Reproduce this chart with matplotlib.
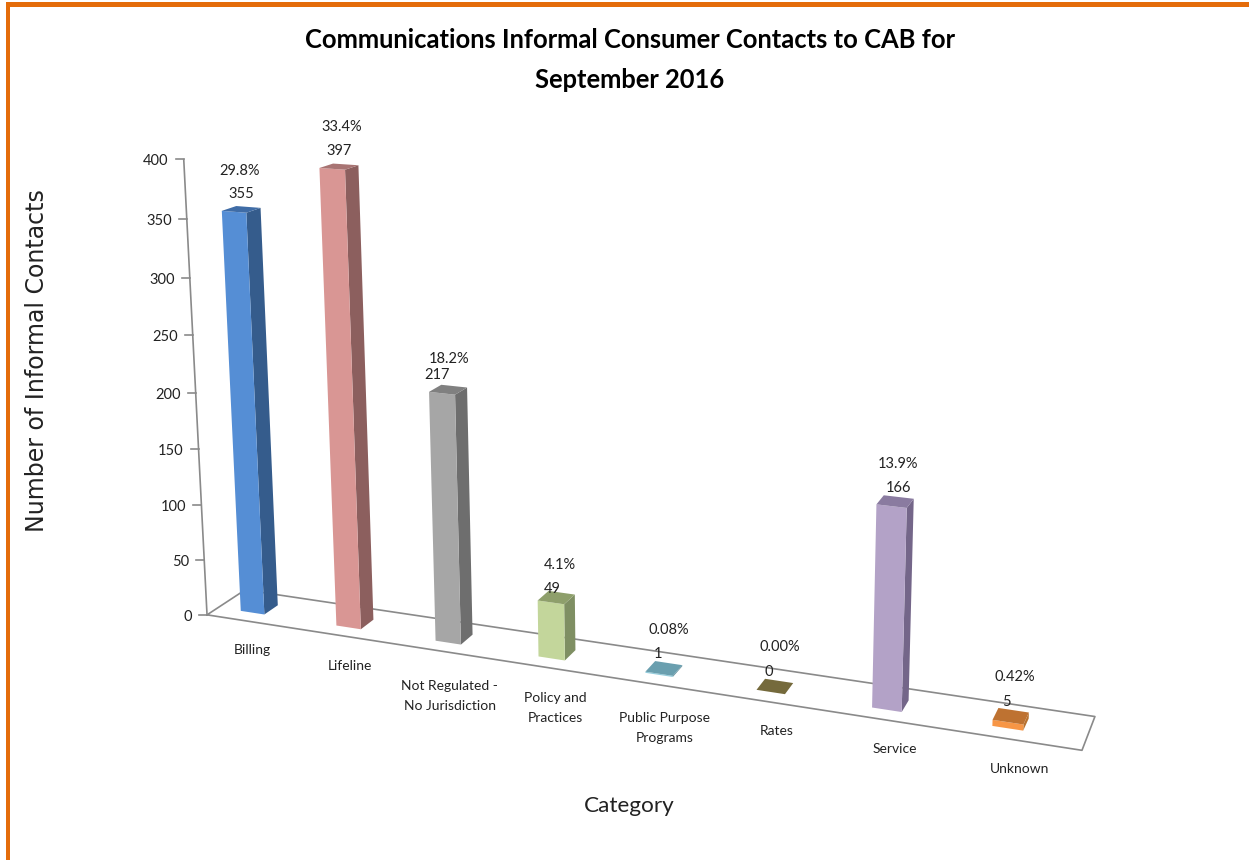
import numpy as np
import matplotlib
matplotlib.use("Agg")
import matplotlib.pyplot as plt
from matplotlib.font_manager import FontProperties

categories = ["Billing", "Lifeline", "Not Regulated -\nNo Jurisdiction", "Policy and\nPractices",
              "Public Purpose\nPrograms", "Rates", "Service", "Unknown"]
contacts = [355, 397, 217, 49, 1, 0, 166, 5]
percents = ["29.8%", "33.4%", "18.2%", "4.1%", "0.08%", "0.00%", "13.9%", "0.42%"]
yticks = [0, 50, 100, 150, 200, 250, 300, 350, 400]

front_colors = ["#558ED5", "#D99694", "#A6A6A6", "#C3D69B", "#93CDDD", "#7F7340", "#B3A2C7", "#F79646"]
side_colors = ["#355C8C", "#8C5F5E", "#6E6E6E", "#7F8F63", "#5F8C99", "#5C5230", "#746689", "#B8722F"]
top_colors = ["#3F6CA6", "#A87473", "#808080", "#8E9F6B", "#6A9FAF", "#756A3C", "#8A7BA0", "#BE7231"]

# label offsets in pixels from the middle of each bar's top
count_off = [(0, -15), (0, -16), (-11, -15), (-4, -9), (-6, -14), (-6, -14), (3, -14), (-4, -14)]
pct_off = [(-2, -38), (3, -40), (1, -31), (4, -33), (5, -38), (5, -39), (3, -38), (4, -39)]
# category label offsets from the front floor edge
cat_off = [(11, 24), (12, 25), (11, 29), (12, 25), (13, 28), (13, 24), (14, 24), (16, 25)]

# view of the chart box: x = category, d = depth, v = value
VIEW = np.array([[8.9605211e+01, 1.6562773e+01, -7.9499607e-02, 2.4077498e+02],
                 [3.4415180e+00, -2.2569302e+00, -1.1515949e+00, 6.1087473e+02],
                 [-1.7899772e-02, 1.1461510e-02, -1.1747195e-04, 1.0]])
X0, X1 = -0.24, 7.75
D0, D1 = -0.80, 1.95
BAR_W = 0.25


def proj(x, d, v):
    q = VIEW @ np.array([x, d, v, 1.0])
    return q[0] / q[2], q[1] / q[2]


plt.rcParams["font.family"] = ["Lato", "DejaVu Sans"]
fig = plt.figure(figsize=(12.49, 8.6), dpi=100)
ax = fig.add_axes([0, 0, 1, 1])
ax.set_xlim(0, 1249)
ax.set_ylim(860, 0)
ax.axis("off")

# orange border
ax.fill([6, 10, 10, 1249, 1249, 6], [860, 860, 7, 7, 2, 2], color="#E46C0A", lw=0)

# floor and value axis
grey = "#8A8A8A"
floor = [proj(X0, D0, 0), proj(X1, D0, 0), proj(X1, D1, 0), proj(X0, D1, 0), proj(X0, D0, 0)]
ax.plot(*zip(*floor), color=grey, lw=1.2)
ax.plot(*zip(proj(X0, D0, 0), proj(X0, D0, max(yticks))), color=grey, lw=1.2)
for t in yticks:
    px, py = proj(X0, D0, t)
    ax.plot([px - 8, px], [py, py], color=grey, lw=1.2)
    ax.text(px - 15, py + 2, str(t), ha="right", va="center", fontsize=10.5, color="#222222")

# bars
for i, v in enumerate(contacts):
    xa, xb = i, i + BAR_W
    if v > 0:
        front = [proj(xa, 0, 0), proj(xb, 0, 0), proj(xb, 0, v), proj(xa, 0, v)]
        side = [proj(xb, 0, 0), proj(xb, 1, 0), proj(xb, 1, v), proj(xb, 0, v)]
        ax.fill(*zip(*side), color=side_colors[i], lw=0, zorder=3)
        ax.fill(*zip(*front), color=front_colors[i], lw=0, zorder=3)
    top = [proj(xa, 0, v), proj(xb, 0, v), proj(xb, 1, v), proj(xa, 1, v)]
    ax.fill(*zip(*top), color=top_colors[i], lw=0, zorder=3)

    cx, cy = proj(xa + BAR_W / 2, 0.5, v)
    ax.text(cx + count_off[i][0], cy + count_off[i][1], str(v), ha="center", va="center",
            fontsize=10.5, color="#222222", zorder=4)
    ax.text(cx + pct_off[i][0], cy + pct_off[i][1], percents[i], ha="center", va="center",
            fontsize=10.5, color="#222222", zorder=4)

    lx, ly = proj(xa + BAR_W / 2, D0, 0)
    ax.text(lx + cat_off[i][0], ly + cat_off[i][1], categories[i], ha="center", va="top",
            fontsize=10, color="#222222", linespacing=1.8)

ax.text(630, 60, "Communications Informal Consumer Contacts to CAB for\nSeptember 2016", ha="center",
        va="center", fontsize=18.4, fontweight="bold", color="black", linespacing=1.85)
ax.text(629, 806, "Category", ha="center", va="center", fontsize=16.2, color="#222222")
ax.text(37, 360.5, "Number of Informal Contacts", ha="center", va="center", rotation=90,
        fontproperties=FontProperties(family="DejaVu Sans", size=17), color="#222222")

fig.savefig("out.png", dpi=100)
